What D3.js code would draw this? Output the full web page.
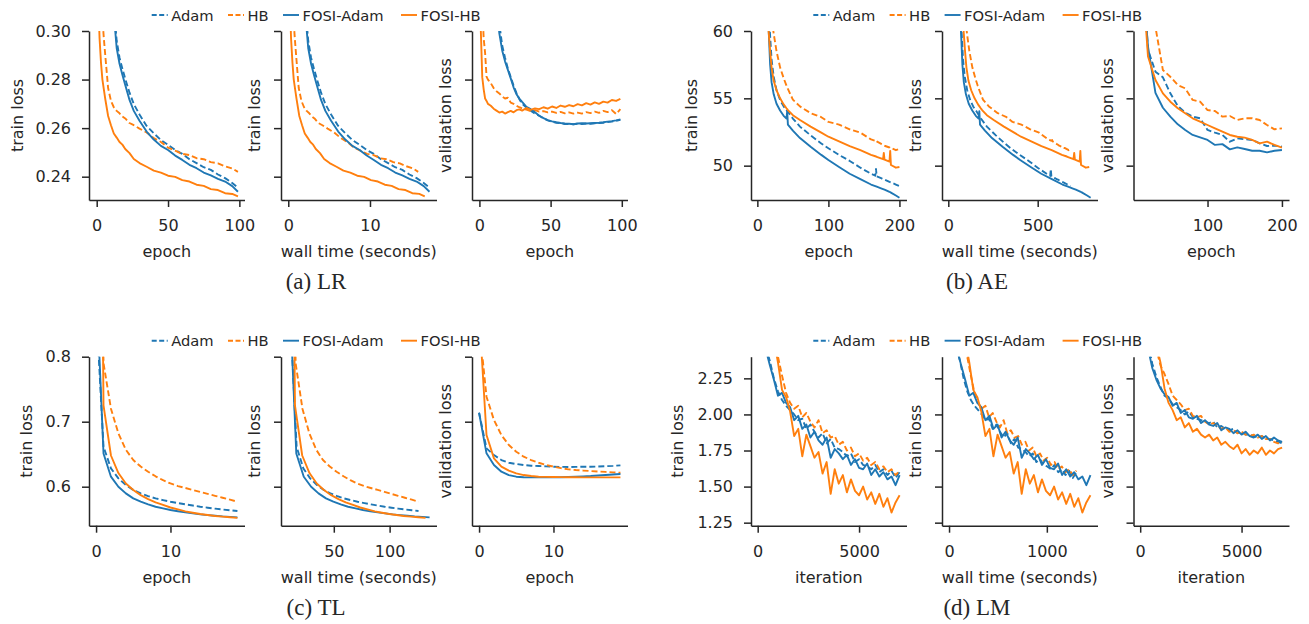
<!DOCTYPE html>
<html>
<head>
<meta charset="utf-8">
<script src="https://cdn.jsdelivr.net/npm/d3@7"></script>
<style>
  body { margin: 0; background: #fff; }
  text { font-family: "DejaVu Sans", sans-serif; fill: #262626; }
  .caption { font-family: "Liberation Serif", "Times New Roman", serif; font-size: 23px; }
</style>
</head>
<body>
<svg id="chart" width="1309" height="624"></svg>
<script>
// ---- (a) LR ----
const lrEpochs = [0, 1, 2, 3, 4, 5, 6, 8, 10, 12, 14, 16, 18, 20, 23, 26, 30, 35, 40, 45, 50, 55, 60, 65, 70, 75, 80, 85, 90, 95, 99]
const lrAdam = [0.62, 0.52, 0.47, 0.44, 0.42, 0.40, 0.385, 0.36, 0.33, 0.31, 0.296, 0.289, 0.2845, 0.2803, 0.2746, 0.2699, 0.2656, 0.2609, 0.2579, 0.2551, 0.2531, 0.2510, 0.2494, 0.2472, 0.2456, 0.2439, 0.2428, 0.2409, 0.2394, 0.2374, 0.2355]
const lrHB = [0.40, 0.37, 0.34, 0.318, 0.305, 0.297, 0.29, 0.2765, 0.2712, 0.2686, 0.2671, 0.2661, 0.2648, 0.2640, 0.2621, 0.2612, 0.2598, 0.2582, 0.2559, 0.2543, 0.2520, 0.2507, 0.2494, 0.2489, 0.2476, 0.2472, 0.2460, 0.2455, 0.2443, 0.2434, 0.2420]
const lrFosiAdam = [0.60, 0.50, 0.46, 0.43, 0.41, 0.39, 0.375, 0.35, 0.325, 0.307, 0.293, 0.2865, 0.282, 0.2778, 0.2716, 0.2671, 0.2630, 0.2586, 0.2553, 0.2527, 0.2510, 0.2487, 0.2469, 0.2449, 0.2435, 0.2417, 0.2405, 0.2391, 0.2380, 0.2361, 0.2338]
const lrFosiHB = [0.36, 0.315, 0.297, 0.287, 0.280, 0.276, 0.272, 0.265, 0.2612, 0.2578, 0.2561, 0.2543, 0.2532, 0.2514, 0.2497, 0.2473, 0.2456, 0.2441, 0.2425, 0.2417, 0.2404, 0.2399, 0.2386, 0.2380, 0.2367, 0.2362, 0.2349, 0.2345, 0.2332, 0.2329, 0.2319]
const lrSecAdam = [0, 0.17, 0.35, 0.52, 0.70, 0.87, 1.05, 1.40, 1.75, 2.09, 2.44, 2.79, 3.14, 3.49, 4.01, 4.54, 5.24, 6.11, 6.98, 7.85, 8.73, 9.60, 10.47, 11.34, 12.22, 13.09, 13.96, 14.83, 15.71, 16.58, 17.28]
const lrSecHB = [0, 0.16, 0.32, 0.48, 0.64, 0.80, 0.96, 1.28, 1.61, 1.93, 2.25, 2.57, 2.89, 3.21, 3.69, 4.18, 4.82, 5.62, 6.42, 7.23, 8.03, 8.83, 9.64, 10.44, 11.24, 12.05, 12.85, 13.65, 14.45, 15.26, 15.90]
const lrSecFosiHB = [0, 0.17, 0.34, 0.51, 0.67, 0.84, 1.01, 1.35, 1.69, 2.02, 2.36, 2.70, 3.04, 3.37, 3.88, 4.39, 5.06, 5.90, 6.75, 7.59, 8.44, 9.28, 10.12, 10.97, 11.81, 12.65, 13.50, 14.34, 15.18, 16.03, 16.70]
const lrValEpochs = [0, 1, 2, 3, 4, 5, 6, 8, 10, 12, 14, 16, 18, 20, 22, 24, 26, 28, 30, 33, 36, 39, 42, 45, 48, 51, 54, 57, 60, 63, 66, 69, 72, 75, 78, 81, 84, 87, 90, 93, 96, 99]
const lrValAdam = [0.52, 0.50, 0.48, 0.46, 0.44, 0.42, 0.40, 0.37, 0.34, 0.318, 0.303, 0.294, 0.289, 0.2845, 0.281, 0.2775, 0.2745, 0.272, 0.2700, 0.2685, 0.2672, 0.2660, 0.2651, 0.2640, 0.2632, 0.2626, 0.2622, 0.2620, 0.2617, 0.2617, 0.2616, 0.2618, 0.2617, 0.2619, 0.2618, 0.2620, 0.2621, 0.2622, 0.2625, 0.2627, 0.2630, 0.2634]
const lrValHB = [0.40, 0.34, 0.31, 0.297, 0.291, 0.2812, 0.2800, 0.2785, 0.2765, 0.2752, 0.2743, 0.2730, 0.2722, 0.2725, 0.2705, 0.2700, 0.2692, 0.2686, 0.2681, 0.2676, 0.2670, 0.2674, 0.2668, 0.2670, 0.2665, 0.2668, 0.2663, 0.2667, 0.2661, 0.2665, 0.2660, 0.2664, 0.2660, 0.2666, 0.2662, 0.2668, 0.2663, 0.2671, 0.2666, 0.2674, 0.2658, 0.2678]
const lrValFosiAdam = [0.50, 0.48, 0.46, 0.44, 0.42, 0.40, 0.385, 0.355, 0.33, 0.312, 0.299, 0.292, 0.2875, 0.284, 0.2805, 0.2768, 0.2740, 0.2722, 0.2708, 0.2688, 0.2678, 0.2665, 0.2651, 0.2641, 0.2633, 0.2628, 0.2624, 0.2621, 0.2619, 0.2618, 0.2616, 0.2619, 0.2620, 0.2619, 0.2620, 0.2621, 0.2622, 0.2624, 0.2627, 0.2629, 0.2632, 0.2636]
const lrValFosiHB = [0.35, 0.30, 0.281, 0.276, 0.2722, 0.2712, 0.2700, 0.2692, 0.2680, 0.2672, 0.2664, 0.2668, 0.2660, 0.2666, 0.2671, 0.2665, 0.2674, 0.2677, 0.2672, 0.2683, 0.2675, 0.2681, 0.2678, 0.2686, 0.2680, 0.2689, 0.2683, 0.2693, 0.2688, 0.2695, 0.2690, 0.2699, 0.2694, 0.2703, 0.2697, 0.2706, 0.2700, 0.2709, 0.2705, 0.2716, 0.2712, 0.2720]

// ---- (b) AE ----
const aeEpochs = [0, 10, 14, 16, 18, 20, 23, 27, 32, 37, 41, 42, 43, 50, 60, 75, 90, 100, 115, 130, 145, 160, 166, 167, 168, 175, 177, 178, 179, 186, 187, 188, 195, 200]
const aeAdam = [92, 72, 64, 61.5, 59.6, 57.9, 56.6, 55.6, 54.88, 54.4, 54.13, 54.07, 54.0, 53.5, 52.9, 52.25, 51.65, 51.29, 50.8, 50.35, 49.85, 49.4, 49.25, 49.75, 49.2, 49.05, 49.0, 48.98, 48.96, 48.8, 48.78, 48.76, 48.6, 48.49]
const aeHB = [95, 75, 67, 64, 62.3, 61.0, 59.8, 58.5, 57.3, 56.5, 55.95, 55.85, 55.7, 54.9, 54.4, 53.9, 53.6, 53.25, 53.05, 52.7, 52.45, 51.95, 51.85, 51.9, 51.8, 51.6, 51.55, 51.5, 51.48, 51.35, 51.3, 51.32, 51.15, 51.25]
const aeFosiAdam = [90, 70, 63, 60.0, 57.5, 56.2, 55.3, 54.6, 54.1, 53.7, 53.5, 54.05, 53.05, 52.6, 52.05, 51.4, 50.8, 50.42, 49.9, 49.4, 49.0, 48.6, 48.48, 48.46, 48.44, 48.3, 48.26, 48.24, 48.22, 48.05, 48.03, 48.0, 47.78, 47.62]
const aeFosiHB = [90, 70, 62.5, 59.9, 58.5, 57.3, 56.3, 55.6, 55.0, 54.55, 54.26, 54.2, 54.13, 53.75, 53.39, 52.9, 52.45, 52.15, 51.8, 51.45, 51.15, 50.8, 50.7, 50.68, 50.66, 50.52, 50.48, 50.95, 50.45, 50.3, 51.1, 50.05, 49.85, 49.9]
const aeSecAdam = [15.5, 48.9, 62.3, 68.9, 75.6, 82.3, 92.3, 105.7, 122.4, 139.1, 152.4, 155.8, 159.1, 182.5, 215.9, 266.0, 316.1, 349.5, 399.6, 449.7, 499.8, 549.9, 569.9, 573.3, 576.6, 600, 606.7, 610.0, 613.4, 636.7, 640.1, 643.4, 666.8, 683.5]
const aeSecHB = [28.6, 61.7, 74.9, 81.5, 88.1, 94.7, 104.7, 117.9, 134.4, 151.0, 164.2, 167.5, 170.8, 194.0, 227.0, 276.6, 326.2, 359.3, 408.9, 458.5, 508.1, 557.7, 577.6, 580.9, 584.2, 607.3, 614.0, 617.2, 620.6, 643.7, 647.0, 650.3, 673.5, 690]
const aeSecFosiAdam = [8, 47.4, 63.2, 71.0, 78.9, 86.8, 98.6, 114.4, 134.1, 153.8, 169.5, 173.5, 177.4, 205.0, 244.4, 303.5, 362.6, 402, 461.1, 520.2, 579.3, 638.4, 662.0, 666.0, 669.9, 697.5, 705.4, 709.3, 713.3, 740.8, 744.8, 748.7, 776.3, 796]
const aeSecFosiHB = [25, 63.2, 78.4, 86.1, 93.7, 101.3, 112.8, 128.0, 147.1, 166.2, 181.5, 185.3, 189.1, 215.8, 254.0, 311.2, 368.4, 406.6, 463.8, 521.1, 578.3, 635.6, 658.5, 662.3, 666.1, 692.8, 700.4, 704.2, 708.1, 734.8, 738.6, 742.4, 769.1, 788.2]
const aeValEpochs = [10, 20, 30, 40, 50, 60, 70, 80, 90, 100, 110, 120, 130, 140, 150, 160, 170, 180, 190, 200]
const aeValAdam = [67, 58.6, 56.98, 56.56, 55.37, 54.43, 53.94, 53.64, 53.52, 52.65, 52.45, 52.28, 51.78, 52.03, 51.96, 51.91, 51.66, 51.46, 51.49, 51.41]
const aeValHB = [72, 66, 60.3, 57.1, 56.6, 55.99, 55.74, 54.88, 54.75, 54.13, 54.06, 53.64, 53.69, 53.39, 53.52, 53.52, 53.39, 53.02, 52.70, 52.77]
const aeValFosiAdam = [66, 58.84, 55.4, 54.3, 53.64, 53.07, 52.65, 52.28, 52.1, 51.91, 51.54, 51.6, 51.21, 51.36, 51.24, 51.11, 51.11, 50.99, 51.11, 51.16]
const aeValFosiHB = [66, 58.1, 56.36, 55.37, 54.75, 54.26, 53.89, 53.52, 53.27, 53.02, 52.77, 52.53, 52.28, 52.15, 52.08, 51.91, 51.66, 51.78, 51.54, 51.34]

// ---- (c) TL ----
const tlEpochs = [0, 1, 2, 3, 4, 5, 6, 7, 8, 9, 10, 11, 12, 13, 14, 15, 16, 17, 18, 19]
const tlAdam = [0.878, 0.6615, 0.6282, 0.6128, 0.6026, 0.5949, 0.5897, 0.5856, 0.582, 0.5794, 0.5769, 0.5748, 0.5728, 0.571, 0.5692, 0.5677, 0.5662, 0.5649, 0.5637, 0.5626]
const tlHB = [1.8, 0.79, 0.72, 0.682, 0.657, 0.641, 0.631, 0.623, 0.616, 0.61, 0.605, 0.601, 0.598, 0.595, 0.592, 0.589, 0.586, 0.583, 0.58, 0.577]
const tlFosiAdam = [0.922, 0.651, 0.6154, 0.600, 0.5897, 0.582, 0.5769, 0.5728, 0.5692, 0.5667, 0.5641, 0.5622, 0.5605, 0.559, 0.5574, 0.5563, 0.5554, 0.5543, 0.5535, 0.5528]
const tlFosiHB = [2.0, 0.725, 0.648, 0.621, 0.605, 0.595, 0.587, 0.581, 0.576, 0.572, 0.568, 0.565, 0.562, 0.560, 0.558, 0.5565, 0.555, 0.554, 0.553, 0.552]
const tlSecAdam = [10.6, 16.7, 22.7, 28.8, 34.9, 41.0, 47.0, 53.1, 59.2, 65.2, 71.3, 77.4, 83.4, 89.5, 95.6, 101.7, 107.7, 113.8, 119.9, 125.9]
const tlSecHB = [9.7, 15.8, 21.9, 28.1, 34.2, 40.3, 46.4, 52.5, 58.7, 64.8, 70.9, 77.0, 83.1, 89.3, 95.4, 101.5, 107.6, 113.7, 119.9, 126.0]
const tlSecFosiAdam = [9.8, 16.4, 23.1, 29.7, 36.3, 43.0, 49.6, 56.2, 62.8, 69.5, 76.1, 82.7, 89.4, 96.0, 102.6, 109.3, 115.9, 122.5, 129.1, 135.8]
const tlSecFosiHB = [8.7, 15.2, 21.7, 28.2, 34.7, 41.2, 47.7, 54.2, 60.7, 67.2, 73.7, 80.2, 86.7, 93.2, 99.7, 106.2, 112.7, 119.2, 125.7, 132.2]
const tlValAdam = [0.7138, 0.659, 0.6487, 0.641, 0.6369, 0.6349, 0.6333, 0.6323, 0.6318, 0.6313, 0.6308, 0.6305, 0.6303, 0.6305, 0.6308, 0.6308, 0.631, 0.6315, 0.632, 0.6328]
const tlValHB = [0.851, 0.7385, 0.7026, 0.6795, 0.6641, 0.6538, 0.6462, 0.641, 0.6369, 0.6336, 0.6308, 0.6286, 0.6267, 0.6256, 0.6248, 0.6241, 0.6234, 0.6228, 0.6221, 0.6215]
const tlValFosiAdam = [0.7138, 0.6513, 0.6333, 0.6231, 0.6179, 0.6154, 0.6146, 0.6144, 0.6143, 0.6143, 0.6144, 0.6146, 0.6149, 0.6154, 0.6159, 0.6164, 0.6172, 0.6179, 0.6187, 0.6195]
const tlValFosiHB = [0.87, 0.6795, 0.6436, 0.6308, 0.6246, 0.6205, 0.6179, 0.6164, 0.6154, 0.6151, 0.6149, 0.6147, 0.6146, 0.6145, 0.6144, 0.6144, 0.6144, 0.6144, 0.6144, 0.6144]

// ---- (d) LM ----
const lmIters = [200, 400, 600, 800, 1000, 1200, 1400, 1600, 1800, 2000, 2200, 2400, 2600, 2800, 3000, 3200, 3400, 3600, 3800, 4000, 4200, 4400, 4600, 4800, 5000, 5200, 5400, 5600, 5800, 6000, 6200, 6400, 6600, 6800, 7000]
const lmAdam = [2.78, 2.47, 2.37, 2.25, 2.16, 2.10, 2.06, 2.03, 2.00, 1.96, 1.97, 1.90, 1.93, 1.88, 1.84, 1.87, 1.80, 1.83, 1.77, 1.76, 1.74, 1.71, 1.73, 1.67, 1.69, 1.65, 1.64, 1.62, 1.65, 1.60, 1.62, 1.58, 1.61, 1.56, 1.60]
const lmHB = [3.2, 3.0, 2.75, 2.52, 2.40, 2.27, 2.15, 2.08, 2.04, 2.06, 1.98, 2.01, 1.95, 1.91, 1.96, 1.87, 1.89, 1.84, 1.85, 1.79, 1.81, 1.75, 1.77, 1.71, 1.73, 1.68, 1.70, 1.65, 1.67, 1.62, 1.64, 1.60, 1.62, 1.58, 1.61]
const lmFosiAdam = [2.75, 2.45, 2.34, 2.24, 2.13, 2.15, 2.08, 2.05, 1.96, 1.99, 1.90, 1.93, 1.84, 1.88, 1.82, 1.79, 1.84, 1.70, 1.76, 1.73, 1.69, 1.72, 1.65, 1.69, 1.63, 1.62, 1.66, 1.58, 1.62, 1.57, 1.60, 1.55, 1.57, 1.51, 1.58]
const lmFosiHB = [3.1, 2.9, 2.7, 2.52, 2.36, 2.17, 2.12, 2.02, 1.85, 1.90, 1.71, 1.86, 1.78, 1.70, 1.74, 1.59, 1.67, 1.45, 1.62, 1.52, 1.58, 1.46, 1.55, 1.47, 1.44, 1.50, 1.41, 1.46, 1.38, 1.45, 1.36, 1.42, 1.32, 1.39, 1.44]
const lmSecBase = [37, 74, 112, 149, 186, 223, 260, 298, 335, 372, 409, 446, 484, 521, 558, 595, 632, 670, 707, 744, 781, 818, 856, 893, 930, 967, 1004, 1042, 1079, 1116, 1153, 1190, 1228, 1265, 1302]
const lmSecFosi = [41, 83, 124, 165, 207, 248, 289, 330, 372, 413, 454, 496, 537, 578, 620, 661, 702, 743, 785, 826, 867, 909, 950, 991, 1033, 1074, 1115, 1156, 1198, 1239, 1280, 1322, 1363, 1404, 1446]
const lmValAdam = [2.74, 2.48, 2.35, 2.26, 2.19, 2.13, 2.11, 2.07, 2.05, 2.03, 2.00, 2.02, 1.98, 1.97, 1.96, 1.95, 1.94, 1.95, 1.91, 1.92, 1.90, 1.89, 1.90, 1.87, 1.88, 1.86, 1.86, 1.85, 1.84, 1.85, 1.83, 1.83, 1.82, 1.81, 1.80]
const lmValHB = [3.1, 2.9, 2.7, 2.45, 2.34, 2.28, 2.21, 2.13, 2.10, 2.07, 2.03, 2.04, 1.99, 1.98, 1.99, 1.95, 1.93, 1.94, 1.92, 1.90, 1.91, 1.88, 1.89, 1.87, 1.88, 1.86, 1.85, 1.86, 1.84, 1.85, 1.83, 1.83, 1.81, 1.80, 1.81]
const lmValFosiAdam = [2.70, 2.45, 2.32, 2.24, 2.18, 2.14, 2.12, 2.06, 2.08, 2.01, 2.03, 1.98, 1.97, 1.99, 1.94, 1.96, 1.93, 1.92, 1.94, 1.89, 1.91, 1.90, 1.87, 1.89, 1.86, 1.88, 1.85, 1.84, 1.86, 1.83, 1.85, 1.82, 1.84, 1.82, 1.81]
const lmValFosiHB = [3.0, 2.8, 2.62, 2.48, 2.36, 2.18, 2.08, 2.03, 1.96, 1.98, 1.91, 1.94, 1.88, 1.90, 1.86, 1.84, 1.86, 1.82, 1.84, 1.79, 1.81, 1.78, 1.76, 1.79, 1.73, 1.76, 1.72, 1.75, 1.73, 1.77, 1.72, 1.75, 1.73, 1.76, 1.77]

const BLUE = '#1f77b4'
const ORANGE = '#ff7f0e'
const series = [
  { key: 'Adam', color: BLUE, dash: true },
  { key: 'HB', color: ORANGE, dash: true },
  { key: 'FOSI-Adam', color: BLUE, dash: false },
  { key: 'FOSI-HB', color: ORANGE, dash: false },
]

const zip = (xs, ys) => xs.map((x, i) => [x, ys[i]])

const groups = [
  {
    caption: '(a) LR', col: 0, row: 0,
    yDomain: [0.2304, 0.30], yTicks: [0.24, 0.26, 0.28, 0.30], yFormat: '.2f', ylabelGap: 66,
    panels: [
      { xDomain: [-5.4, 103.6], xTicks: [0, 50, 100], xlabel: 'epoch', ylabel: 'train loss',
        lines: [zip(lrEpochs, lrAdam), zip(lrEpochs, lrHB), zip(lrEpochs, lrFosiAdam), zip(lrEpochs, lrFosiHB)] },
      { xDomain: [-0.89, 18.14], xTicks: [0, 10], xlabel: 'wall time (seconds)', ylabel: 'train loss',
        lines: [zip(lrSecAdam, lrAdam), zip(lrSecHB, lrHB), zip(lrSecAdam, lrFosiAdam), zip(lrSecFosiHB, lrFosiHB)] },
      { xDomain: [-5.2, 104], xTicks: [0, 50, 100], xlabel: 'epoch', ylabel: 'validation loss',
        lines: [zip(lrValEpochs, lrValAdam), zip(lrValEpochs, lrValHB), zip(lrValEpochs, lrValFosiAdam), zip(lrValEpochs, lrValFosiHB)] },
    ],
  },
  {
    caption: '(b) AE', col: 1, row: 0,
    yDomain: [47.45, 60], yTicks: [50, 55, 60], yFormat: 'd', ylabelGap: 54,
    panels: [
      { xDomain: [-8.95, 209.95], xTicks: [0, 100, 200], xlabel: 'epoch', ylabel: 'train loss',
        lines: [zip(aeEpochs, aeAdam), zip(aeEpochs, aeHB), zip(aeEpochs, aeFosiAdam), zip(aeEpochs, aeFosiHB)] },
      { xDomain: [-35.2, 834.5], xTicks: [0, 500], xlabel: 'wall time (seconds)', ylabel: 'train loss',
        lines: [zip(aeSecAdam, aeAdam), zip(aeSecHB, aeHB), zip(aeSecFosiAdam, aeFosiAdam), zip(aeSecFosiHB, aeFosiHB)] },
      { xDomain: [0.5, 209.5], xTicks: [100, 200], xlabel: 'epoch', ylabel: 'validation loss',
        lines: [zip(aeValEpochs, aeValAdam), zip(aeValEpochs, aeValHB), zip(aeValEpochs, aeValFosiAdam), zip(aeValEpochs, aeValFosiHB)] },
    ],
  },
  {
    caption: '(c) TL', col: 0, row: 1,
    yDomain: [0.54, 0.80], yTicks: [0.6, 0.7, 0.8], yFormat: '.1f', ylabelGap: 57,
    panels: [
      { xDomain: [-0.95, 19.95], xTicks: [0, 10], xlabel: 'epoch', ylabel: 'train loss',
        lines: [zip(tlEpochs, tlAdam), zip(tlEpochs, tlHB), zip(tlEpochs, tlFosiAdam), zip(tlEpochs, tlFosiHB)] },
      { xDomain: [2.7, 142], xTicks: [50, 100], xlabel: 'wall time (seconds)', ylabel: 'train loss',
        lines: [zip(tlSecAdam, tlAdam), zip(tlSecHB, tlHB), zip(tlSecFosiAdam, tlFosiAdam), zip(tlSecFosiHB, tlFosiHB)] },
      { xDomain: [-0.95, 19.95], xTicks: [0, 10], xlabel: 'epoch', ylabel: 'validation loss',
        lines: [zip(tlEpochs, tlValAdam), zip(tlEpochs, tlValHB), zip(tlEpochs, tlValFosiAdam), zip(tlEpochs, tlValFosiHB)] },
    ],
  },
  {
    caption: '(d) LM', col: 1, row: 1,
    yDomain: [1.229, 2.40], yTicks: [1.25, 1.5, 1.75, 2.0, 2.25], yFormat: '.2f', ylabelGap: 68,
    panels: [
      { xDomain: [-330, 7340], xTicks: [0, 5000], xlabel: 'iteration', ylabel: 'train loss',
        lines: [zip(lmIters, lmAdam), zip(lmIters, lmHB), zip(lmIters, lmFosiAdam), zip(lmIters, lmFosiHB)] },
      { xDomain: [-72, 1518], xTicks: [0, 1000], xlabel: 'wall time (seconds)', ylabel: 'train loss',
        lines: [zip(lmSecBase, lmAdam), zip(lmSecBase, lmHB), zip(lmSecFosi, lmFosiAdam), zip(lmSecFosi, lmFosiHB)] },
      { xDomain: [-330, 7340], xTicks: [0, 5000], xlabel: 'iteration', ylabel: 'validation loss',
        lines: [zip(lmIters, lmValAdam), zip(lmIters, lmValHB), zip(lmIters, lmValFosiAdam), zip(lmIters, lmValFosiHB)] },
    ],
  },
]

const svg = d3.select('#chart')
const W = 155.5
const H = 169
const colLefts = [[89, 281, 472], [751, 942, 1133.5]]
const rowTops = [31, 356.7]
const captionX = [316, 977]
const legendX = [151.7, 813.3]
const legendOffsets = [0, 76.3, 131.3, 249.3]
const INK = '#262626'
const defs = svg.append('defs')
let clipCount = 0

function drawPanel(group, p, k) {
  const left = colLefts[group.col][k]
  const top = rowTops[group.row]
  const x = d3.scaleLinear().domain(p.xDomain).range([left, left + W])
  const y = d3.scaleLinear().domain(group.yDomain).range([top + H, top])

  const clipId = `clip-${clipCount++}`
  defs.append('clipPath').attr('id', clipId)
    .append('rect').attr('x', left).attr('y', top).attr('width', W).attr('height', H)

  const line = d3.line()
    .defined((d) => d[1] != null)
    .x((d) => x(d[0]))
    .y((d) => y(d[1]))

  const plot = svg.append('g').attr('clip-path', `url(#${clipId})`)
  p.lines.forEach((pts, i) => {
    plot.append('path')
      .datum(pts)
      .attr('d', line)
      .attr('fill', 'none')
      .attr('stroke', series[i].color)
      .attr('stroke-width', 1.9)
      .attr('stroke-linejoin', 'round')
      .attr('stroke-dasharray', series[i].dash ? '6,3' : null)
  })

  const xAxis = svg.append('g')
    .attr('transform', `translate(0,${top + H})`)
    .call(d3.axisBottom(x).tickValues(p.xTicks).tickFormat(d3.format('d')).tickSize(7).tickSizeOuter(0).tickPadding(13))
  const yAxis = svg.append('g')
    .attr('transform', `translate(${left},0)`)
    .call(d3.axisLeft(y).tickValues(group.yTicks)
      .tickFormat(k === 0 ? d3.format(group.yFormat) : () => '')
      .tickSize(7).tickSizeOuter(0).tickPadding(11))
  for (const ax of [xAxis, yAxis]) {
    ax.attr('font-size', null).attr('font-family', null)
    ax.selectAll('path, line').attr('stroke', INK).attr('stroke-width', 1.5)
    ax.selectAll('text').attr('fill', INK).style('font-size', '16px')
  }

  svg.append('text')
    .attr('x', left + W / 2)
    .attr('y', top + H + 57)
    .attr('text-anchor', 'middle')
    .style('font-size', '16px')
    .text(p.xlabel)

  const gap = k === 0 ? group.ylabelGap : 21
  svg.append('text')
    .attr('transform', `translate(${left - gap},${top + H / 2}) rotate(-90)`)
    .attr('text-anchor', 'middle')
    .style('font-size', '16px')
    .text(p.ylabel)
}

groups.forEach((group) => {
  group.panels.forEach((p, k) => drawPanel(group, p, k))

  // legend above the three panels
  const ly = rowTops[group.row] - 16
  const legend = svg.append('g')
  series.forEach((s, i) => {
    const lx = legendX[group.col] + legendOffsets[i]
    legend.append('line')
      .attr('x1', lx).attr('x2', lx + 16)
      .attr('y1', ly).attr('y2', ly)
      .attr('stroke', s.color)
      .attr('stroke-width', 1.9)
      .attr('stroke-dasharray', s.dash ? '5,2.5' : null)
    legend.append('text')
      .attr('x', lx + 19.5)
      .attr('y', ly + 5.5)
      .style('font-size', '14.7px')
      .text(s.key)
  })

  svg.append('text')
    .attr('class', 'caption')
    .attr('x', captionX[group.col])
    .attr('y', rowTops[group.row] + 258)
    .attr('text-anchor', 'middle')
    .text(group.caption)
})
</script>
</body>
</html>
